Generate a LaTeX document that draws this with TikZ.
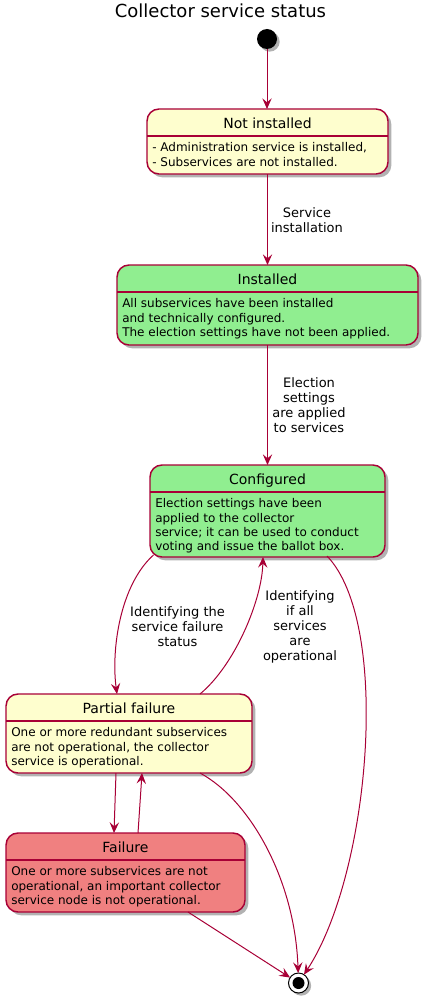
\documentclass[tikz,border=0pt]{standalone}
\usepackage{fontspec}
\setmainfont{DejaVu Sans}
\usetikzlibrary{arrows.meta,shadows,calc}
\definecolor{bord}{HTML}{A80036}
\definecolor{yel}{HTML}{FEFECE}
\definecolor{grn}{HTML}{90EE90}
\definecolor{redc}{HTML}{F08080}
\tikzset{
  state/.style={draw=bord, line width=1.1pt, rounded corners=9pt, inner sep=0pt, outer sep=0pt,
    drop shadow={shadow xshift=2.5pt, shadow yshift=-2.5pt, opacity=0.3, fill=black}},
  hdr/.style={draw=bord, line width=1.1pt},
  stitle/.style={font=\fontsize{10.5pt}{12pt}\selectfont, anchor=base, inner sep=0pt},
  sbody/.style={font=\fontsize{9pt}{10.7pt}\selectfont, align=left, anchor=north west, inner sep=0pt},
  elab/.style={font=\fontsize{9.75pt}{11.25pt}\selectfont, align=center, inner sep=0pt},
  arr/.style={draw=bord, line width=0.75pt, -{Stealth[length=8pt,width=7pt,inset=3pt]}},
}
\begin{document}
\begin{tikzpicture}[x=0.75pt,y=-0.75pt]
\useasboundingbox (0,0) rectangle (429,1002);

\node[font=\fontsize{13.5pt}{16pt}\selectfont, anchor=base, inner sep=0pt] (title) at (220.5,17.3) {Collector service status};

\node[circle, fill=black, minimum size=15pt, inner sep=0pt, outer sep=0pt,
  drop shadow={shadow xshift=2pt, shadow yshift=-2pt, opacity=0.3, fill=black}] (start) at (267,39) {};

% Not installed
\node[state, fill=yel, minimum width=180.75pt, minimum height=48.75pt] (ni) at (267.5,141.5) {};
\draw[hdr] ($(ni.north west)+(0,27)$) -- ($(ni.north east)+(0,27)$);
\node[stitle] (nit) at ($(ni.north)+(0,19.5)$) {Not installed};
\node[sbody] (nib) at ($(ni.north west)+(5,33.6)$) {- Administration service is installed,\\- Subservices are not installed.};

% Installed
\node[state, fill=grn, minimum width=225.75pt, minimum height=60pt] (in) at (267.5,305) {};
\draw[hdr] ($(in.north west)+(0,27)$) -- ($(in.north east)+(0,27)$);
\node[stitle] (int) at ($(in.north)+(0,19.5)$) {Installed};
\node[sbody] (inb) at ($(in.north west)+(5,33.6)$) {All subservices have been installed\\and technically configured.\\The election settings have not been applied.};

% Configured
\node[state, fill=grn, minimum width=176.25pt, minimum height=69pt] (cf) at (267.5,511) {};
\draw[hdr] ($(cf.north west)+(0,27)$) -- ($(cf.north east)+(0,27)$);
\node[stitle] (cft) at ($(cf.north)+(0,19.5)$) {Configured};
\node[sbody] (cfb) at ($(cf.north west)+(5,33.6)$) {Election settings have been\\applied to the collector\\service; it can be used to conduct\\voting and issue the ballot box.};

% Partial failure
\node[state, fill=yel, minimum width=184.5pt, minimum height=59.25pt] (pf) at (129,733.5) {};
\draw[hdr] ($(pf.north west)+(0,27)$) -- ($(pf.north east)+(0,27)$);
\node[stitle] (pft) at ($(pf.north)+(0,19.5)$) {Partial failure};
\node[sbody] (pfb) at ($(pf.north west)+(5,33.6)$) {One or more redundant subservices\\are not operational, the collector\\service is operational.};

% Failure
\node[state, fill=redc, minimum width=179.25pt, minimum height=59.25pt] (fl) at (125.5,872.5) {};
\draw[hdr] ($(fl.north west)+(0,27)$) -- ($(fl.north east)+(0,27)$);
\node[stitle] (flt) at ($(fl.north)+(0,19.5)$) {Failure};
\node[sbody] (flb) at ($(fl.north west)+(5,33.6)$) {One or more subservices are not\\operational, an important collector\\service node is not operational.};

% End
\node[circle, draw=black, fill=white, line width=0.75pt, minimum size=15pt, inner sep=0pt, outer sep=0pt,
  drop shadow={shadow xshift=2pt, shadow yshift=-2pt, opacity=0.3, fill=black}] (end) at (298.5,983) {};
\node[circle, fill=black, minimum size=9pt, inner sep=0pt] (endin) at (end.center) {};

% Connectors
\draw[arr] (start.south) -- (start.south |- ni.north);
\draw[arr] (ni.south) -- (in.north);
\node[elab] (l1) at (307,220) {Service\\installation};
\draw[arr] (in.south) -- (cf.north);
\node[elab] (l2) at (309,405) {Election\\settings\\are applied\\to services};

\draw[arr] ($(cf.south)+(-114,-2)$) .. controls ($(cf.south)+(-147.5,28)$) and ($(pf.north)+(-18,-44)$) .. ($(pf.north)+(-12,0)$);
\node[elab] (l3) at (177.5,626.5) {Identifying the\\service failure\\status};

\draw[arr] ($(pf.north)+(71,0)$) .. controls ($(pf.north)+(106,-29)$) and ($(cf.south)+(-5.5,43)$) .. ($(cf.south)+(-4.5,0)$);
\node[elab] (l4) at (300,626.7) {Identifying\\if all\\services\\are\\operational};

\draw[arr] ($(cf.south)+(59.5,-1)$) .. controls ($(cf.south)+(124,66)$) and ($(end.center)+(72,-110)$) .. (end);

\draw[arr] ($(pf.south)+(-13,0)$) -- ($(fl.north)+(-11.5,0)$);
\draw[arr] ($(fl.north)+(12.5,0)$) -- ($(pf.south)+(13,0)$);

\draw[arr] ($(pf.south)+(71,0)$) .. controls ($(pf.south)+(121,27)$) and ($(end.center)+(-3.5,-103)$) .. (end);
\draw[arr] ($(fl.south)+(62.5,0)$) -- (end);
\end{tikzpicture}
\end{document}
